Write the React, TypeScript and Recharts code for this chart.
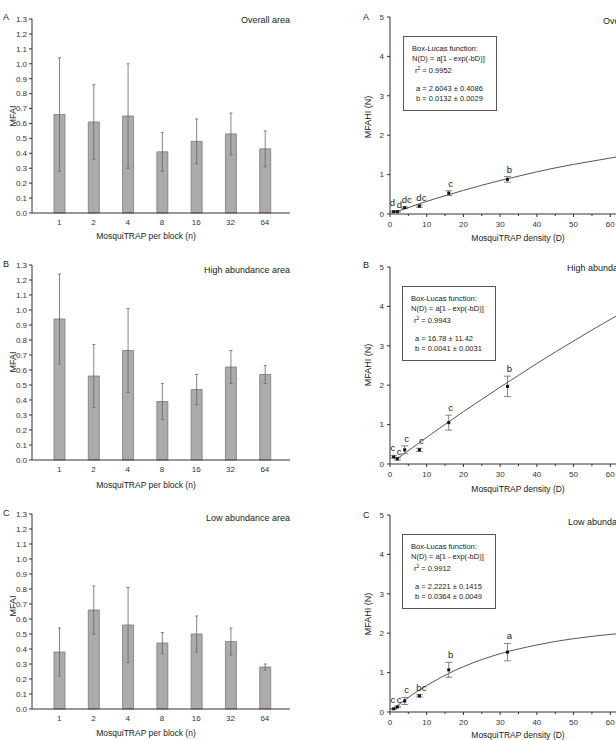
import React from 'react';
import { BarChart, Bar, XAxis, YAxis, ErrorBar, ComposedChart, Line, Scatter } from 'recharts';

const FONT = '"Liberation Sans", Arial, Helvetica, sans-serif';

// ---- Left panels: MFAI per number of MosquiTRAPs per block ----
const perBlock = ['1', '2', '4', '8', '16', '32', '64'];
const overallMean = [0.66, 0.61, 0.65, 0.41, 0.48, 0.53, 0.43];
const overallErr = [0.38, 0.25, 0.35, 0.13, 0.15, 0.14, 0.12];
const highMean = [0.94, 0.56, 0.73, 0.39, 0.47, 0.62, 0.57];
const highErr = [0.30, 0.21, 0.28, 0.12, 0.10, 0.11, 0.06];
const lowMean = [0.38, 0.66, 0.56, 0.44, 0.50, 0.45, 0.28];
const lowErr = [0.16, 0.16, 0.25, 0.07, 0.12, 0.09, 0.02];
const mfaiTicks = [0, 0.1, 0.2, 0.3, 0.4, 0.5, 0.6, 0.7, 0.8, 0.9, 1.0, 1.1, 1.2, 1.3];

// ---- Right panels: MFAHI vs MosquiTRAP density ----
const density = [1, 2, 4, 8, 16, 32, 64];
const overallN = [0.06, 0.06, 0.16, 0.20, 0.53, 0.88, 1.48];
const overallNErr = [0.01, 0.01, 0.02, 0.03, 0.06, 0.07, 0.08];
const overallLetters = ['d', 'd', 'dc', 'dc', 'c', 'b', 'a'];
const highN = [0.18, 0.13, 0.36, 0.36, 1.05, 1.97, 3.85];
const highNErr = [0.03, 0.03, 0.10, 0.04, 0.19, 0.26, 0.30];
const highLetters = ['c', 'c', 'c', 'c', 'c', 'b', 'a'];
const lowN = [0.08, 0.13, 0.28, 0.41, 1.07, 1.52, 2.00];
const lowNErr = [0.01, 0.02, 0.09, 0.03, 0.19, 0.22, 0.10];
const lowLetters = ['c', 'c', 'c', 'bc', 'b', 'a', 'a'];

// fitted Box-Lucas curves
const curveD = [2, 4, 8, 12, 16, 20, 25, 30, 35, 40, 45, 50, 55, 60, 65, 70];
const overallCurve = [0.07, 0.13, 0.26, 0.38, 0.49, 0.60, 0.73, 0.85, 0.96, 1.07, 1.17, 1.26, 1.34, 1.42, 1.50, 1.57];
const highCurve = [0.14, 0.27, 0.54, 0.81, 1.07, 1.33, 1.64, 1.95, 2.25, 2.55, 2.84, 3.12, 3.40, 3.67, 3.93, 4.19];
const lowCurve = [0.16, 0.30, 0.56, 0.78, 0.98, 1.15, 1.33, 1.48, 1.60, 1.70, 1.79, 1.86, 1.92, 1.97, 2.01, 2.05];
const nTicks = [0, 1, 2, 3, 4, 5];
const dTicks = [0, 5, 10, 15, 20, 25, 30, 35, 40, 45, 50, 55, 60, 65, 70];

const fitA = ['Box-Lucas function:', 'N(D) = a[1 - exp(-bD)]', '0.9952', 'a = 2.6043 ± 0.4086', 'b = 0.0132 ± 0.0029'];
const fitB = ['Box-Lucas function:', 'N(D) = a[1 - exp(-bD)]', '0.9943', 'a = 16.78 ± 11.42', 'b = 0.0041 ± 0.0031'];
const fitC = ['Box-Lucas function:', 'N(D) = a[1 - exp(-bD)]', '0.9912', 'a = 2.2221 ± 0.1415', 'b = 0.0364 ± 0.0049'];

const barRows = (mean: number[], err: number[]) =>
  perBlock.map((c, i) => ({ c, v: mean[i], e: err[i] }));
const pointRows = (n: number[], e: number[], l: string[]) =>
  density.map((x, i) => ({ x, y: n[i], e: e[i], letter: l[i] }));
const curveRows = (ys: number[]) => curveD.map((x, i) => ({ x, y: ys[i] }));

const AXIS = '#333';
const tickStyle = { fontSize: 8, fill: '#333', fontFamily: FONT };

function T({ x, y, size = 9, anchor = 'start', rotate = false, children }: any) {
  const tx = anchor === 'start' ? '0' : anchor === 'middle' ? '-50%' : '-100%';
  return (
    <div
      style={{
        position: 'absolute', left: x, top: y, fontFamily: FONT, fontSize: size, color: '#222',
        whiteSpace: 'nowrap', lineHeight: 1,
        transform: `translate(${tx}, -50%)${rotate ? ' rotate(-90deg)' : ''}`,
        transformOrigin: anchor === 'middle' ? 'center' : undefined,
      }}
    >
      {children}
    </div>
  );
}

function BarPanel({ top, height, data }: any) {
  return (
    <div style={{ position: 'absolute', left: 0, top }}>
      <BarChart width={300} height={height} data={data} margin={{ top: 19, right: 10, bottom: 0, left: 0 }}>
        <XAxis dataKey="c" tickLine={false} height={32} padding={{ left: 10, right: 8 }}
          stroke={AXIS} tick={tickStyle} interval={0} tickMargin={0} />
        <YAxis width={32} domain={[0, 1.3]} ticks={mfaiTicks} interval={0} tickSize={3} tickMargin={2}
          stroke={AXIS} tick={tickStyle} tickFormatter={(v: number) => v.toFixed(1)} />
        <Bar dataKey="v" barSize={11} fill="#ababab" stroke="#7a7a7a" strokeWidth={0.8} isAnimationActive={false}>
          <ErrorBar dataKey="e" width={1.5} stroke="#666" strokeWidth={0.8} />
        </Bar>
      </BarChart>
    </div>
  );
}

const PX_PER_N = 197 / 5;
const PLOT_BOTTOM = 214;

const DensityTick = (props: any) => {
  const { x, payload } = props;
  const v = payload.value;
  const major = v % 10 === 0;
  return (
    <g>
      <line x1={x} x2={x} y1={PLOT_BOTTOM} y2={PLOT_BOTTOM + (major ? 3 : 2)} stroke={AXIS} />
      {major && (
        <text x={x} y={PLOT_BOTTOM + 13} textAnchor="middle" fontSize={8} fill="#333" fontFamily={FONT}>{v}</text>
      )}
    </g>
  );
};

const PointShape = (p: any) => {
  const { cx, cy, payload } = p;
  if (cx == null || cy == null) return <g />;
  const topY = cy - payload.e * PX_PER_N;
  // the two lowest densities sit very close together: spread their letters apart
  let anchor = 'middle';
  let tx = cx + 2;
  let ty = topY - 4;
  if (payload.x === 1) { anchor = 'end'; tx = cx + 1.5; ty = topY - 5; }
  if (payload.x === 2) { anchor = 'start'; tx = cx - 0.5; ty = topY - 3; }
  return (
    <g>
      <rect x={cx - 1.5} y={cy - 1.5} width={3} height={3} fill="#111" />
      <text x={tx} y={ty} textAnchor={anchor} fontSize={9.5} fill="#222" fontFamily={FONT}>{payload.letter}</text>
    </g>
  );
};

function FitPanel({ top, points, curve }: any) {
  return (
    <div style={{ position: 'absolute', left: 350, top }}>
      <ComposedChart width={310} height={245} margin={{ top: 17, right: 13, bottom: 0, left: 0 }}>
        <XAxis type="number" dataKey="x" domain={[0, 70]} ticks={dTicks} interval={0} allowDataOverflow
          height={31} stroke={AXIS} tickLine={false} tick={<DensityTick />} />
        <YAxis type="number" width={40} domain={[0, 5]} ticks={nTicks} interval={0} tickSize={3} tickMargin={3}
          stroke={AXIS} tick={tickStyle} />
        <Line data={curve} dataKey="y" type="monotone" dot={false} stroke="#555" strokeWidth={1}
          isAnimationActive={false} />
        <Scatter data={points} dataKey="y" shape={<PointShape />} isAnimationActive={false}>
          <ErrorBar dataKey="e" direction="y" width={3.5} stroke="#666" strokeWidth={0.8} />
        </Scatter>
      </ComposedChart>
    </div>
  );
}

function FitBox({ left, top, lines }: any) {
  return (
    <>
      <div style={{ position: 'absolute', left, top, width: 94, height: 75, border: '1px solid #555', boxSizing: 'border-box', background: '#fff' }} />
      <T x={left + 9} y={top + 12.5} size={7.5}>{lines[0]}</T>
      <T x={left + 9} y={top + 23} size={7.5}>{lines[1]}</T>
      <T x={left + 12} y={top + 34} size={7.5}>r<sup style={{ fontSize: 5 }}>2</sup> = {lines[2]}</T>
      <T x={left + 13} y={top + 53} size={7.5}>{lines[3]}</T>
      <T x={left + 13} y={top + 63} size={7.5}>{lines[4]}</T>
    </>
  );
}

export default function App() {
  return (
    <div style={{ position: 'absolute', left: 0, top: 0, width: 616, height: 740, overflow: 'hidden', background: '#fff' }}>
      <BarPanel top={0} height={245} data={barRows(overallMean, overallErr)} />
      <BarPanel top={246} height={246} data={barRows(highMean, highErr)} />
      <BarPanel top={495} height={246} data={barRows(lowMean, lowErr)} />

      <FitPanel top={0} points={pointRows(overallN, overallNErr, overallLetters)} curve={curveRows(overallCurve)} />
      <FitPanel top={250} points={pointRows(highN, highNErr, highLetters)} curve={curveRows(highCurve)} />
      <FitPanel top={498} points={pointRows(lowN, lowNErr, lowLetters)} curve={curveRows(lowCurve)} />

      <FitBox left={403} top={36} lines={fitA} />
      <FitBox left={402} top={286} lines={fitB} />
      <FitBox left={402} top={534} lines={fitC} />

      {/* left panel texts */}
      <T x={3} y={17} size={9}>A</T>
      <T x={3} y={264} size={9}>B</T>
      <T x={3} y={513} size={9}>C</T>
      <T x={290} y={20} size={9} anchor="end">Overall area</T>
      <T x={290} y={270} size={9} anchor="end">High abundance area</T>
      <T x={290} y={518} size={9} anchor="end">Low abundance area</T>
      <T x={13} y={116} size={9} anchor="middle" rotate>MFAI</T>
      <T x={13} y={362} size={9} anchor="middle" rotate>MFAI</T>
      <T x={13} y={606} size={9} anchor="middle" rotate>MFAI</T>
      <T x={146} y={236} size={8.5} anchor="middle">MosquiTRAP per block (n)</T>
      <T x={146} y={485} size={8.5} anchor="middle">MosquiTRAP per block (n)</T>
      <T x={146} y={733} size={8.5} anchor="middle">MosquiTRAP per block (n)</T>

      {/* right panel texts */}
      <T x={363} y={17} size={9}>A</T>
      <T x={363} y={265} size={9}>B</T>
      <T x={363} y={515} size={9}>C</T>
      <T x={603} y={21} size={9}>Overall area</T>
      <T x={567} y={268} size={9}>High abundance area</T>
      <T x={568} y={522} size={9}>Low abundance area</T>
      <T x={368} y={117} size={9} anchor="middle" rotate>MFAHI (N)</T>
      <T x={368} y={365} size={9} anchor="middle" rotate>MFAHI (N)</T>
      <T x={368} y={614} size={9} anchor="middle" rotate>MFAHI (N)</T>
      <T x={518} y={238} size={8.5} anchor="middle">MosquiTRAP density (D)</T>
      <T x={518} y={489} size={8.5} anchor="middle">MosquiTRAP density (D)</T>
      <T x={518} y={735} size={8.5} anchor="middle">MosquiTRAP density (D)</T>
    </div>
  );
}
